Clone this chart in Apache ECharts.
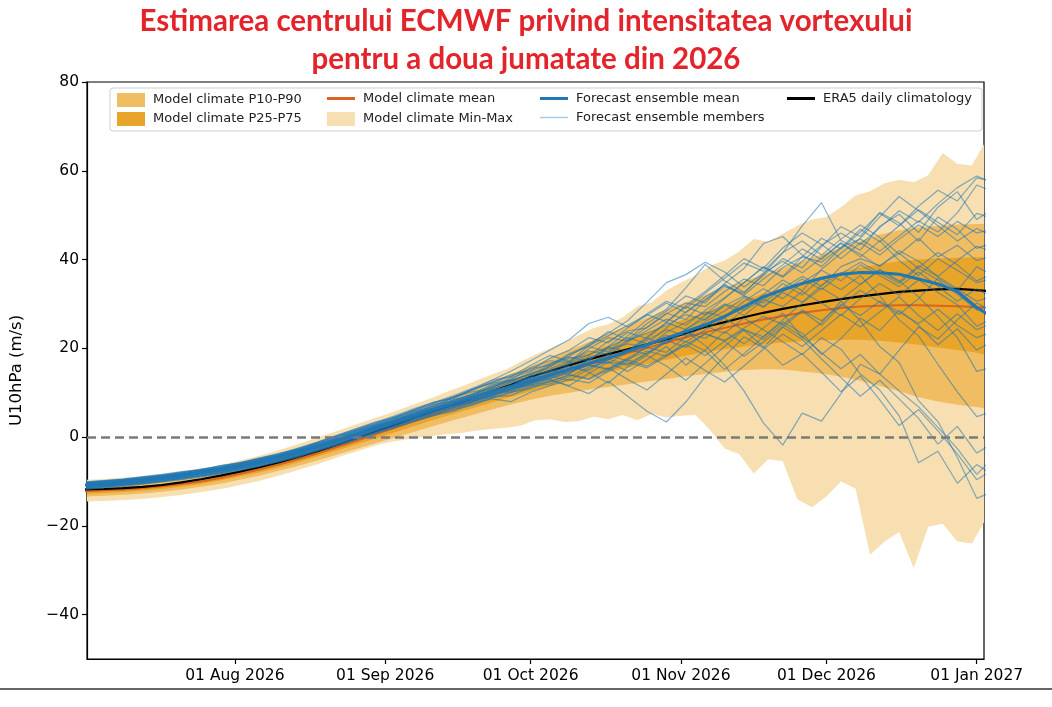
<!DOCTYPE html>
<html><head><meta charset="utf-8">
<script src="https://cdn.jsdelivr.net/npm/echarts@6/dist/echarts.min.js"></script>
<style>html,body{margin:0;padding:0;background:#fff}#c{width:1052px;height:707px}</style>
</head><body><div id="c"></div><script>
const titleLine1 = 'Estimarea centrului ECMWF privind intensitatea vortexului';
const titleLine2 = 'pentru a doua jumatate din 2026';
const yAxisName = 'U10hPa (m/s)';
const tickDays = [31, 62, 92, 123, 153, 184];
const tickLabels = ['01 Aug 2026', '01 Sep 2026', '01 Oct 2026', '01 Nov 2026', '01 Dec 2026', '01 Jan 2027'];
const yTicks = [-40, -20, 0, 20, 40, 60, 80];

// days since 1 Jul 2026
const days4 = [0,4,8,12,16,20,24,28,32,36,40,44,48,52,56,60,64,68,72,76,80,84,88,92,96,100,104,108,112,116,120,124,128,132,136,140,144,148,152,156,160,164,168,172,176,180,184,188];
const days3 = [0,3,6,9,12,15,18,21,24,27,30,33,36,39,42,45,48,51,54,57,60,63,66,69,72,75,78,81,84,87,90,93,96,99,102,105,108,111,114,117,120,123,126,129,132,135,138,141,144,147,150,153,156,159,162,165,168,171,174,177,180,183,186];

const climMin = [-14.5,-14.4,-14.3,-14.1,-13.9,-13.6,-13.3,-12.9,-12.4,-11.9,-11.3,-10.6,-9.9,-9.0,-8.1,-7.1,-6.1,-5.0,-3.9,-2.9,-1.9,-1.1,-0.6,-0.1,0.3,0.7,1.0,1.5,1.8,2.1,2.6,3.8,4.0,3.4,3.6,4.6,4.0,5.0,3.8,5.2,4.4,4.8,5.0,1.6,-2.6,-3.8,-8.2,-5.0,-5.4,-14.0,-15.8,-13.4,-10.0,-11.6,-26.5,-23.5,-21.4,-29.5,-20.2,-19.5,-23.5,-24.0,-19.2];
const climMax = [-9.6,-9.5,-9.3,-9.1,-8.8,-8.5,-8.1,-7.6,-7.1,-6.5,-5.8,-5.0,-4.2,-3.3,-2.3,-1.2,-0.1,1.0,2.1,3.2,4.3,5.4,6.6,7.8,9.0,10.3,11.5,12.8,14.1,15.3,17.0,18.6,20.0,21.4,23.0,24.6,25.4,27.0,29.4,30.4,33.0,34.8,36.4,38.6,39.8,41.8,44.6,44.0,45.8,47.6,49.0,49.6,51.8,54.4,55.4,57.2,58.0,57.4,59.0,64.0,61.6,61.2,66.0];
const climP10 = [-13.4,-13.2,-13.0,-12.7,-12.3,-11.8,-11.2,-10.5,-9.6,-8.7,-7.6,-6.5,-5.3,-4.0,-2.7,-1.4,-0.1,1.2,2.5,3.8,5.0,6.2,7.4,8.4,9.3,10.0,10.7,11.3,11.9,12.5,13.1,13.7,14.2,14.7,15.1,15.3,15.2,14.8,14.3,13.6,12.7,11.5,10.3,9.0,8.0,7.3,6.8,6.5];
const climP90 = [-10.9,-10.7,-10.5,-10.2,-9.8,-9.3,-8.7,-7.9,-6.9,-5.9,-4.7,-3.4,-2.1,-0.6,1.0,2.6,4.2,5.8,7.5,9.2,10.8,12.5,14.2,16.0,17.8,19.6,21.4,23.3,25.1,26.9,28.7,30.4,32.0,33.6,35.1,36.6,38.1,39.6,41.1,42.6,44.2,45.6,46.6,47.2,47.6,47.9,48.0,48.0];
const climP25 = [-12.8,-12.6,-12.4,-12.1,-11.7,-11.2,-10.6,-9.8,-8.9,-8.0,-6.9,-5.7,-4.4,-3.1,-1.7,-0.3,1.1,2.5,3.9,5.2,6.5,7.8,9.1,10.3,11.5,12.6,13.6,14.6,15.6,16.5,17.4,18.3,19.1,19.8,20.4,20.9,21.3,21.6,21.8,21.9,21.9,21.7,21.3,20.8,20.2,19.6,19.0,18.6];
const climP75 = [-11.6,-11.4,-11.2,-10.9,-10.5,-10.0,-9.4,-8.6,-7.6,-6.6,-5.4,-4.2,-2.9,-1.4,0.1,1.7,3.3,4.9,6.5,8.1,9.7,11.3,12.9,14.5,16.1,17.6,19.1,20.6,22.1,23.6,25.1,26.6,28.1,29.5,30.9,32.3,33.6,34.9,36.1,37.2,38.2,39.0,39.6,40.0,40.3,40.4,40.5,40.5];
const climMean = [-12.2,-12.0,-11.8,-11.5,-11.1,-10.6,-10.0,-9.2,-8.3,-7.3,-6.2,-5.0,-3.7,-2.3,-0.9,0.6,2.1,3.6,5.1,6.6,8.0,9.5,10.9,12.3,13.7,15.0,16.3,17.6,18.9,20.1,21.3,22.5,23.6,24.6,25.6,26.5,27.3,28.0,28.6,29.1,29.4,29.6,29.7,29.7,29.6,29.5,29.3,29.2];
const era5Clim = [-11.8,-11.7,-11.5,-11.2,-10.8,-10.2,-9.5,-8.7,-7.8,-6.8,-5.7,-4.5,-3.2,-1.8,-0.3,1.3,2.8,4.3,5.8,7.3,8.8,10.3,11.8,13.6,14.9,16.2,17.5,18.7,19.8,20.9,22.0,23.4,24.8,25.9,27.0,28.0,28.9,29.7,30.4,31.1,31.7,32.2,32.7,33.0,33.3,33.4,33.1,32.8];
const ensMean = [-10.8,-10.5,-10.1,-9.7,-9.2,-8.6,-8.0,-7.3,-6.5,-5.6,-4.6,-3.4,-2.1,-0.8,0.6,2.1,3.5,4.9,6.3,7.6,8.9,10.2,11.4,12.7,14.0,15.3,16.6,17.9,19.3,20.8,22.3,23.8,25.3,27.2,29.4,31.6,33.2,34.6,35.8,36.7,37.1,37.0,36.7,35.6,34.5,32.8,29.2,26.5];

const ensembleMembers = [
[-10.2,-9.8,-9.6,-9.0,-8.7,-7.9,-7.5,-6.4,-5.9,-4.8,-3.9,-2.5,-1.2,0.4,1.8,3.4,4.3,6.2,7.9,8.6,10.8,12.1,13.0,15.6,17.2,16.8,19.9,22.4,21.6,24.8,27.9,26.5,30.8,33.9,32.4,36.8,41.5,47.6,52.8,44.3,42.1,47.5,50.2,46.1,51.8,55.3,49.0,52.0],
[-11.6,-11.2,-10.8,-10.5,-9.8,-9.4,-8.6,-8.1,-7.0,-6.3,-5.1,-4.2,-2.6,-1.6,-0.2,1.2,2.4,4.1,5.2,6.1,7.8,9.0,9.4,11.2,12.8,11.6,14.3,16.9,14.8,17.5,20.4,16.2,19.6,23.8,21.0,24.6,27.9,22.4,25.8,30.6,26.2,20.4,16.8,8.2,3.5,-4.6,-13.8,-12.0],
[-10.4,-10.1,-9.9,-9.3,-9.0,-8.2,-7.8,-7.0,-6.1,-5.3,-4.2,-3.0,-1.8,-0.3,1.1,2.6,4.0,5.6,6.6,8.4,9.6,11.3,12.6,13.5,16.1,17.8,18.4,21.6,23.9,24.6,27.8,30.2,29.4,32.8,35.6,34.1,38.2,40.6,39.4,42.8,44.6,41.9,45.3,48.7,46.2,50.5,56.8,55.0],
[-11.0,-10.9,-10.3,-10.0,-9.5,-8.8,-8.3,-7.6,-6.8,-5.9,-5.0,-3.6,-2.5,-1.1,0.2,1.8,3.1,4.4,6.0,7.1,8.2,9.8,10.4,12.2,13.0,11.4,9.8,12.6,9.2,5.8,3.4,7.9,13.6,18.2,22.6,20.1,24.8,28.4,25.2,29.6,33.1,30.4,27.6,31.2,35.8,33.0,38.4,36.0],
[-11.2,-10.7,-10.4,-9.9,-9.4,-8.9,-8.1,-7.5,-6.7,-5.7,-4.8,-3.7,-2.2,-1.0,0.5,2.0,3.3,4.6,6.0,7.3,8.5,9.7,11.3,12.1,13.9,15.2,16.4,17.3,19.8,18.6,21.4,23.9,20.6,16.2,10.4,3.2,-1.8,5.4,3.6,9.8,16.4,14.2,19.6,24.8,22.1,26.4,30.2,28.0],
[-11.4,-11.0,-10.6,-10.3,-9.7,-9.1,-8.5,-7.9,-7.1,-6.2,-5.2,-4.0,-2.8,-1.4,-0.1,1.4,2.8,4.2,5.4,6.8,8.0,9.5,10.6,12.4,13.4,14.8,16.2,15.4,17.8,20.2,19.1,22.6,25.0,23.4,26.8,24.2,21.5,18.6,22.4,19.8,14.2,10.6,4.8,-5.8,-3.2,-10.4,-6.2,-9.0],
[-10.6,-10.2,-9.7,-9.5,-8.9,-8.3,-7.7,-6.9,-6.2,-5.1,-4.3,-3.1,-1.5,-0.4,1.3,2.7,3.9,5.3,7.2,8.3,9.4,11.6,12.9,14.2,15.8,18.6,20.4,19.2,22.8,26.4,28.8,33.6,38.9,35.2,32.6,36.4,40.2,38.1,42.9,47.4,45.2,50.6,48.3,44.1,49.6,46.8,42.5,44.0],
[-10.9,-10.6,-10.2,-9.6,-9.3,-8.6,-8.0,-7.3,-6.6,-5.5,-4.7,-3.3,-2.0,-0.9,0.7,2.2,3.6,4.8,6.4,7.7,9.1,10.0,11.8,13.4,13.9,16.4,17.6,19.8,21.0,20.2,23.6,25.8,28.2,27.0,30.6,33.4,31.2,34.8,37.6,35.2,38.8,36.4,33.9,37.2,34.0,30.6,33.4,31.0],
[-11.1,-10.8,-10.5,-10.1,-9.6,-8.9,-8.4,-7.7,-6.9,-6.0,-4.9,-3.8,-2.4,-1.2,0.3,1.6,3.0,4.5,5.8,7.0,8.4,9.4,11.1,12.0,14.6,15.9,15.0,17.6,19.4,22.2,21.0,24.4,26.6,29.8,27.4,30.8,34.6,32.0,35.8,33.2,36.4,31.8,26.4,22.8,16.4,10.2,4.6,6.0],
[-10.3,-9.9,-9.5,-9.1,-8.5,-8.0,-7.2,-6.6,-5.7,-4.9,-3.7,-2.6,-1.3,0.2,1.6,3.1,4.6,6.0,7.6,9.0,10.5,12.4,14.1,15.0,17.8,19.6,22.4,21.2,24.6,27.8,30.6,29.0,32.4,35.8,39.2,37.4,41.6,44.2,41.0,44.6,47.8,45.0,41.2,44.8,40.6,43.2,39.8,41.0],
[-11.5,-11.1,-10.9,-10.4,-10.0,-9.2,-8.8,-8.0,-7.3,-6.4,-5.4,-4.4,-3.0,-1.8,-0.5,0.9,2.3,3.6,4.9,5.8,7.4,8.6,8.0,10.1,11.6,13.0,12.2,14.8,16.9,15.6,18.2,21.6,19.4,15.2,18.8,22.6,26.0,23.4,18.6,22.2,26.8,24.0,28.6,25.2,20.8,24.4,19.6,22.0],
[-10.5,-10.3,-9.8,-9.4,-8.8,-8.4,-7.6,-7.1,-6.0,-5.2,-4.0,-2.9,-1.6,-0.2,1.4,2.8,4.3,5.8,7.0,8.8,10.2,11.0,13.4,14.8,16.6,18.2,21.0,23.4,26.2,30.4,34.8,36.6,39.4,37.2,33.8,36.9,39.6,37.0,40.4,43.6,41.2,38.4,42.0,39.6,36.2,39.8,43.0,41.5],
[-11.3,-11.0,-10.7,-10.2,-9.8,-9.2,-8.7,-7.8,-7.2,-6.2,-5.3,-4.1,-2.9,-1.5,-0.3,1.0,2.6,3.8,5.6,6.6,8.1,9.2,10.8,11.6,13.2,14.4,16.8,18.4,17.2,20.6,23.0,21.4,24.2,26.8,24.0,20.4,16.2,18.8,14.6,10.2,13.8,8.4,2.6,6.2,1.4,-3.8,-9.6,-7.0],
[-10.7,-10.4,-10.0,-9.8,-9.1,-8.5,-7.9,-7.2,-6.3,-5.4,-4.4,-3.2,-1.9,-0.6,0.9,2.4,3.7,5.1,6.6,7.9,9.2,10.8,12.2,13.1,14.8,16.6,18.0,19.0,21.8,23.4,25.2,27.6,26.4,29.6,31.8,30.2,33.6,36.2,34.0,38.4,40.2,38.6,41.4,38.0,35.4,32.2,28.6,30.0],
[-10.9,-10.5,-10.1,-9.7,-9.2,-8.7,-8.0,-7.4,-6.4,-5.6,-4.5,-3.4,-2.2,-0.7,0.6,2.0,3.4,5.0,6.2,7.4,9.0,10.6,11.4,13.8,15.0,14.2,17.4,20.2,22.4,21.0,24.6,28.2,31.0,34.4,32.0,35.6,38.8,42.4,40.0,43.8,40.6,44.2,39.8,36.4,40.2,37.6,34.8,36.0],
[-11.3,-10.9,-10.6,-10.0,-9.6,-9.0,-8.2,-7.6,-6.8,-5.8,-4.9,-3.7,-2.3,-1.1,0.4,1.7,3.2,4.3,5.9,7.2,8.0,9.9,10.2,11.8,12.4,14.0,13.2,15.6,13.0,10.6,14.2,17.8,15.0,12.4,16.0,19.8,23.2,20.4,24.0,27.6,24.8,28.2,31.6,27.4,24.0,27.8,24.2,26.0],
[-10.4,-10.0,-9.7,-9.2,-8.7,-8.1,-7.4,-6.8,-5.9,-5.0,-4.1,-2.8,-1.4,0.0,1.5,2.9,4.4,5.9,7.4,8.1,9.8,11.8,12.6,14.4,15.4,17.2,19.4,18.6,21.4,24.0,26.6,25.2,28.6,31.4,34.8,38.2,36.0,39.6,43.2,46.0,43.4,47.2,51.0,48.4,52.6,56.2,58.8,57.0],
[-11.0,-10.6,-10.3,-9.9,-9.3,-8.7,-8.2,-7.5,-6.6,-5.7,-4.6,-3.5,-2.1,-0.8,0.7,2.1,3.5,4.7,6.1,7.5,8.7,10.2,11.2,12.6,14.0,15.6,17.2,16.6,19.2,21.8,24.2,22.8,26.0,28.4,31.4,29.2,32.6,30.4,34.2,37.0,34.4,37.8,35.2,31.6,27.2,22.4,14.8,16.0],
[-11.8,-11.4,-11.1,-10.6,-10.1,-9.6,-9.0,-8.3,-7.5,-6.6,-5.6,-4.5,-3.2,-1.9,-0.6,0.8,2.1,3.5,4.8,6.2,7.2,8.8,10.0,11.4,12.0,13.6,15.8,17.0,16.2,18.8,21.4,23.6,22.2,25.4,28.6,31.0,29.4,32.8,30.2,27.4,31.2,34.6,32.0,35.4,32.6,29.8,25.0,27.0],
[-10.1,-9.8,-9.4,-8.9,-8.4,-7.8,-7.3,-6.5,-5.8,-4.7,-3.8,-2.7,-1.1,0.3,1.9,3.3,4.8,6.4,7.8,9.3,11.0,12.8,13.6,16.2,18.4,17.0,20.6,23.8,22.0,25.6,28.4,31.8,30.2,34.6,38.0,43.6,45.2,41.0,38.4,42.6,46.8,44.0,47.6,51.2,48.4,45.6,50.4,49.0],
[-10.8,-10.4,-10.0,-9.5,-9.0,-8.4,-7.8,-7.0,-6.3,-5.3,-4.4,-3.1,-1.9,-0.5,0.9,2.3,3.8,5.2,6.6,8.0,9.4,10.9,12.4,13.2,15.1,16.8,18.6,20.2,19.4,22.6,25.8,24.2,27.4,30.0,28.6,32.2,35.4,33.0,37.8,41.4,44.8,49.6,54.2,51.0,47.6,44.2,47.0,45.0],
[-11.4,-11.1,-10.7,-10.3,-9.9,-9.3,-8.6,-8.0,-7.2,-6.1,-5.2,-4.0,-2.7,-1.3,0.0,1.5,2.9,4.2,5.7,6.9,8.3,9.6,10.9,11.8,13.6,12.8,15.4,17.6,16.4,19.0,21.8,20.2,23.4,21.6,18.2,21.4,24.8,22.0,17.6,13.4,9.2,12.8,8.6,4.2,-1.6,2.4,-3.6,-1.0],
[-10.5,-10.2,-9.8,-9.3,-8.9,-8.2,-7.6,-6.9,-6.1,-5.2,-4.1,-3.0,-1.7,-0.2,1.2,2.6,4.1,5.5,7.0,8.9,10.6,12.8,14.9,17.2,19.6,22.0,25.6,27.0,24.8,27.4,30.2,28.0,31.6,34.2,31.8,29.4,32.8,35.6,33.2,36.8,39.4,37.0,34.6,38.2,41.6,38.8,35.2,37.0],
[-11.2,-10.8,-10.5,-10.1,-9.5,-9.0,-8.3,-7.7,-6.9,-6.0,-5.0,-3.9,-2.6,-1.3,0.1,1.5,2.9,4.3,5.7,7.0,8.3,9.2,10.6,12.4,13.2,14.6,16.2,15.2,17.6,19.4,18.2,20.8,23.2,21.8,24.6,27.2,25.4,28.6,26.2,29.8,27.4,30.6,28.2,25.6,28.8,25.2,22.4,24.0],
[-10.6,-10.3,-9.9,-9.4,-8.9,-8.3,-7.7,-7.0,-6.2,-5.3,-4.3,-3.2,-1.8,-0.5,0.9,2.4,3.8,5.4,6.8,8.2,9.6,11.2,12.8,14.0,16.4,18.0,17.2,20.4,23.6,22.2,25.8,29.4,27.6,31.2,34.8,38.4,36.2,40.6,44.8,42.4,46.2,50.4,47.6,52.0,55.6,53.2,58.4,57.5],
[-11.0,-10.7,-10.2,-9.8,-9.3,-8.8,-8.1,-7.4,-6.6,-5.8,-4.7,-3.6,-2.3,-0.9,0.5,1.9,3.4,4.8,6.2,7.6,9.0,10.4,11.4,12.8,14.4,16.0,14.6,12.2,15.8,18.4,16.0,12.8,16.6,20.4,24.2,22.6,26.4,30.2,33.6,31.0,34.4,37.6,35.0,38.6,36.2,33.4,30.6,32.0],
[-11.6,-11.3,-10.9,-10.5,-10.0,-9.4,-8.8,-8.2,-7.4,-6.5,-5.5,-4.3,-3.0,-1.7,-0.4,1.0,2.4,3.8,5.2,6.5,7.6,8.9,10.2,10.9,12.6,14.0,13.0,15.2,17.4,16.0,18.6,20.8,18.4,21.6,24.2,22.0,25.4,22.6,19.0,15.4,18.6,14.2,10.4,6.8,2.2,-2.6,-8.4,-4.0],
[-10.3,-10.0,-9.6,-9.2,-8.6,-8.1,-7.4,-6.7,-5.9,-5.0,-4.0,-2.8,-1.4,0.1,1.5,3.0,4.5,6.1,7.7,9.0,10.8,12.2,13.8,15.4,16.2,18.8,20.6,22.8,25.2,27.6,26.0,29.6,32.8,36.4,40.2,38.0,42.6,46.0,43.4,40.2,43.8,41.0,44.6,47.8,45.2,48.6,46.0,47.0]
];

const C_MINMAX = '#f7dfb1', C_P1090 = '#f0bd62', C_P2575 = '#e9a42a';
const C_MEMBER = 'rgba(31,119,180,0.55)', C_ENS = '#1f77b4', C_CMEAN = '#d9651e', C_ERA5 = '#000000';
const FONT = 'DejaVu Sans';

function pair(xs, ys) { return xs.map((x, i) => [x, ys[i]]); }

function band(name, xs, lo, hi, color, z) {
  return {
    name: name, type: 'custom', z: z, silent: true, clip: true,
    itemStyle: { color: color },
    encode: { x: 0, y: [1, 2] },
    data: xs.map((x, i) => [x, lo[i], hi[i]]),
    renderItem: function (params, api) {
      if (params.dataIndex !== 0) return null;
      const pts = [];
      for (let i = 0; i < xs.length; i++) pts.push(api.coord([xs[i], hi[i]]));
      for (let i = xs.length - 1; i >= 0; i--) pts.push(api.coord([xs[i], lo[i]]));
      const cs = params.coordSys;
      const clipped = echarts.graphic.clipPointsByRect(pts, { x: cs.x, y: cs.y, width: cs.width, height: cs.height });
      return { type: 'polygon', shape: { points: clipped }, style: { fill: color } };
    }
  };
}

function line(name, xs, ys, color, width, z, extra) {
  return Object.assign({
    name: name, type: 'line', z: z, silent: true, showSymbol: false, symbol: 'none',
    data: pair(xs, ys), lineStyle: { color: color, width: width }, itemStyle: { color: color },
    clip: true
  }, extra || {});
}

const series = [
  band('Model climate Min-Max', days3, climMin, climMax, C_MINMAX, 1),
  band('Model climate P10-P90', days4, climP10, climP90, C_P1090, 1),
  band('Model climate P25-P75', days4, climP25, climP75, C_P2575, 1),
  line('Model climate mean', days4, climMean, C_CMEAN, 2, 2, {
    markLine: { silent: true, symbol: ['none', 'none'], label: { show: false },
      lineStyle: { color: '#7a7a7a', width: 2.5, type: [9, 5] }, data: [{ yAxis: 0 }] }
  }),
  line('ERA5 daily climatology', days4, era5Clim, C_ERA5, 2.2, 3)
];
ensembleMembers.forEach(m => series.push(line('Forecast ensemble members', days4, m, C_MEMBER, 1.2, 4)));
series.push(line('Forecast ensemble mean', days4, ensMean, C_ENS, 3, 5));

function leg(name, left, top, w, h, color) {
  return {
    left: left, top: top, orient: 'vertical', padding: 0, itemWidth: w, itemHeight: h, z: 8,
    selectedMode: false,
    textStyle: { fontFamily: FONT, fontSize: 13, color: '#222', padding: [0, 0, 0, 3] },
    data: [{ name: name, icon: 'rect', itemStyle: { color: color, borderWidth: 0 } }]
  };
}

const option = {
  animation: false,
  backgroundColor: '#fff',
  title: [
    { text: titleLine1, left: 'center', top: 1, textStyle: { fontFamily: 'Lato', fontWeight: 'bold', fontSize: 29.5, color: '#e3242b' } },
    { text: titleLine2, left: 'center', top: 39, textStyle: { fontFamily: 'Lato', fontWeight: 'bold', fontSize: 29.5, color: '#e3242b' } }
  ],
  grid: { left: 84.5, right: 68, top: 82, bottom: 48, show: true, borderColor: '#000', borderWidth: 1.2, backgroundColor: 'transparent' },
  legend: [
    leg('Model climate P10-P90', 117, 93, 28, 14, C_P1090),
    leg('Model climate P25-P75', 117, 112, 28, 14, C_P2575),
    leg('Model climate mean', 327, 92, 28, 3, C_CMEAN),
    leg('Model climate Min-Max', 327, 112, 28, 14, C_MINMAX),
    leg('Forecast ensemble mean', 540, 92, 28, 3, C_ENS),
    leg('Forecast ensemble members', 540, 111, 28, 1.5, '#a9cbe6'),
    leg('ERA5 daily climatology', 787, 92, 28, 3, C_ERA5)
  ],
  graphic: [
    { type: 'rect', z: 6, shape: { x: 110, y: 88, width: 872, height: 43, r: 3 }, style: { fill: 'rgba(255,255,255,0.85)', stroke: '#cfcfcf', lineWidth: 1 } },
    { type: 'line', z: 6, shape: { x1: 0, y1: 689, x2: 1052, y2: 689 }, style: { stroke: '#333', lineWidth: 1.5 } }
  ],
  xAxis: {
    type: 'value', min: 0.5, max: 185.5,
    axisLine: { show: true, onZero: false, lineStyle: { color: '#000', width: 1.2 } },
    axisTick: { show: true, length: 5, customValues: tickDays, lineStyle: { color: '#000', width: 1.2 } },
    axisLabel: { customValues: tickDays, fontFamily: FONT, fontSize: 15.5, color: '#000', margin: 9,
      formatter: v => tickLabels[tickDays.indexOf(v)] || '' },
    splitLine: { show: false }
  },
  yAxis: {
    type: 'value', min: -50, max: 80,
    name: yAxisName, nameLocation: 'middle', nameGap: 62,
    nameTextStyle: { fontFamily: FONT, fontSize: 16.5, color: '#000' },
    axisLine: { show: true, lineStyle: { color: '#000', width: 1.2 } },
    axisTick: { show: true, length: 5, customValues: yTicks, lineStyle: { color: '#000', width: 1.2 } },
    axisLabel: { customValues: yTicks, fontFamily: FONT, fontSize: 15.5, color: '#000', margin: 8,
      formatter: v => String(v).replace('-', '\u2212') },
    splitLine: { show: false }
  },
  series: series
};

echarts.init(document.getElementById('c'), null, { renderer: 'canvas' }).setOption(option);
</script></body></html>
